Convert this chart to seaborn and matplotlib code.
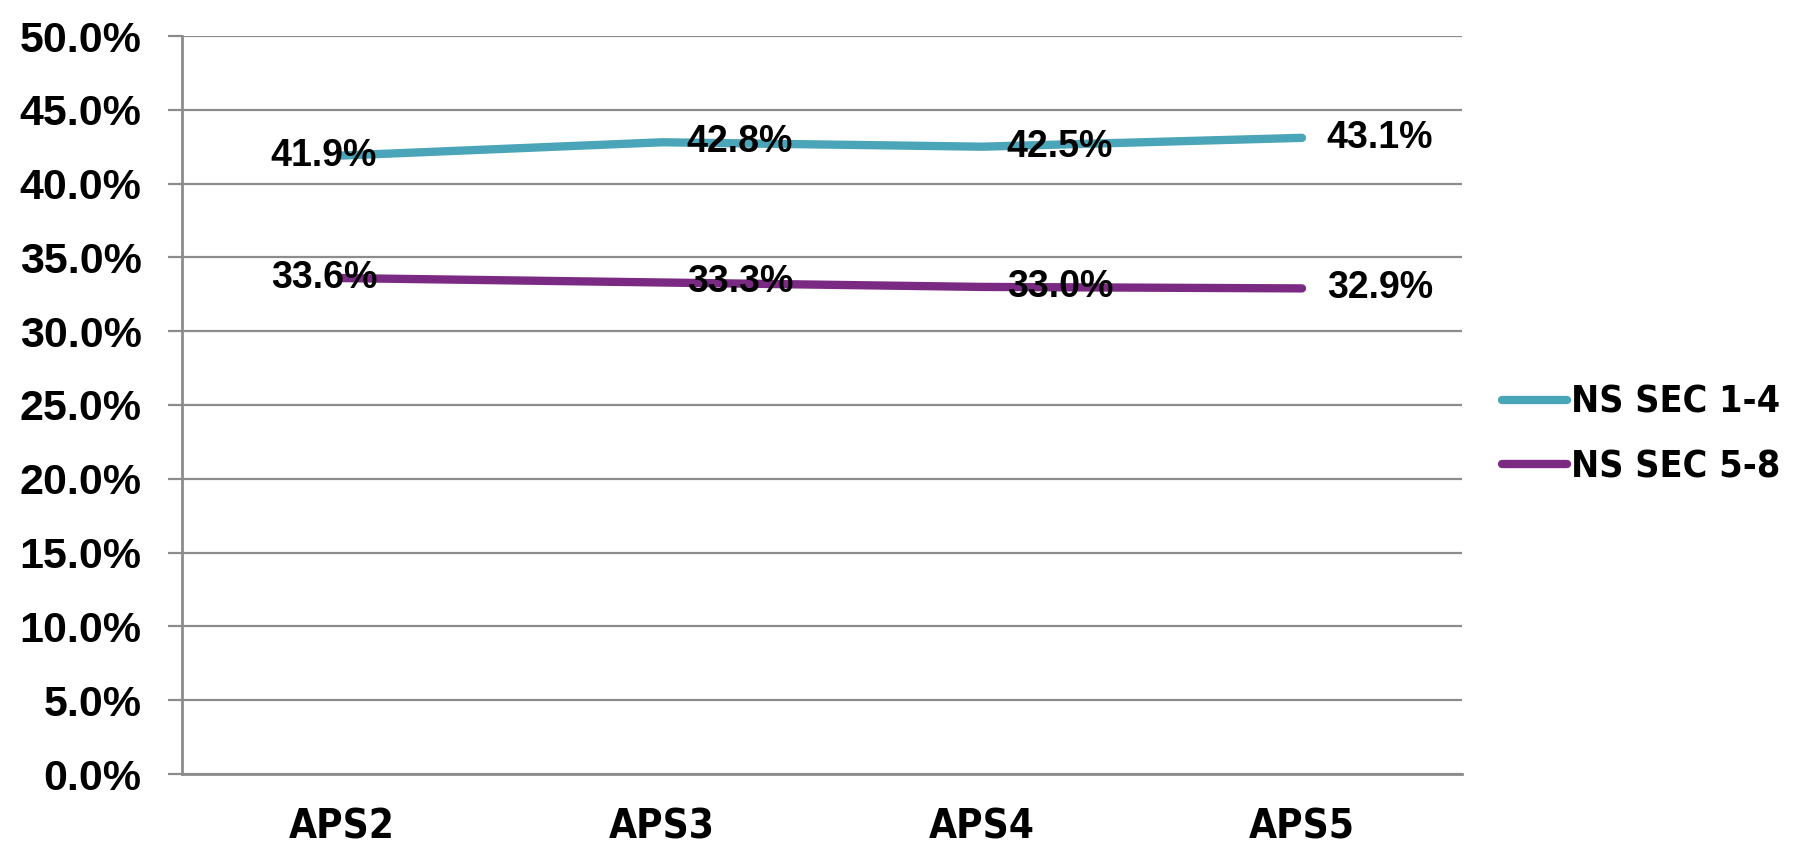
import matplotlib
matplotlib.use("Agg")
import matplotlib.pyplot as plt
import seaborn as sns
import pandas as pd
from matplotlib import font_manager
from matplotlib.font_manager import FontProperties
from matplotlib.lines import Line2D
from matplotlib.ticker import MultipleLocator, FixedLocator, FuncFormatter

# Survey waves and the share in each socio-economic group
waves = ["APS2", "APS3", "APS4", "APS5"]
ns_sec_1_4 = [41.9, 42.8, 42.5, 43.1]
ns_sec_5_8 = [33.6, 33.3, 33.0, 32.9]
series_names = ["NS SEC 1-4", "NS SEC 5-8"]
series_colors = ["#4BA5B8", "#7B2A83"]

df = pd.DataFrame({
    "pos": list(range(len(waves))) * 2,
    "value": ns_sec_1_4 + ns_sec_5_8,
    "group": [series_names[0]] * len(waves) + [series_names[1]] * len(waves),
})

sns.set_theme(style="white")
plt.rcParams["font.family"] = ["Liberation Sans", "DejaVu Sans"]

# Pick a condensed bold face for category and legend text if one is installed
fonts = font_manager.fontManager.ttflist
narrow = None
for f in fonts:
    if f.name == "Liberation Sans Narrow" and f.weight in (700, "bold"):
        narrow = {"family": "Liberation Sans Narrow", "stretch": "normal"}
        break
if narrow is None:
    for f in fonts:
        if f.name == "DejaVu Sans" and "Condensed" in f.fname and "Bold" in f.fname:
            narrow = {"family": "DejaVu Sans", "stretch": "condensed"}
            break
if narrow is None:
    narrow = {"family": "Liberation Sans", "stretch": "normal"}

fig = plt.figure(figsize=(17.98, 8.48), dpi=100)
ax = fig.add_axes([182 / 1798, 1 - 774 / 848, 1280 / 1798, 738 / 848])

sns.lineplot(data=df, x="pos", y="value", hue="group", palette=series_colors,
             linewidth=6, ax=ax, solid_capstyle="round", legend=False,
             estimator=None, sort=False)

ax.set_xlim(-0.5, len(waves) - 0.5)
ax.set_ylim(0, 50)

grid_c = "#8C8C8C"
ax.yaxis.set_major_locator(MultipleLocator(5))
ax.yaxis.set_major_formatter(FuncFormatter(lambda v, _: f"{v:.1f}%"))
ax.grid(axis="y", color=grid_c, linewidth=1.6)
ax.set_axisbelow(True)

cat_font = FontProperties(family=narrow["family"], stretch=narrow["stretch"],
                          weight="bold", size=29)
ax.set_xticks(range(len(waves)))
ax.set_xticklabels(waves, fontproperties=cat_font, color="black")
ax.xaxis.set_minor_locator(FixedLocator([i - 0.5 for i in range(len(waves) + 1)]))
ax.tick_params(axis="x", which="major", length=0, pad=24)
ax.tick_params(axis="x", which="minor", length=13, width=1.6, color=grid_c,
               direction="out")
ax.tick_params(axis="y", length=10, width=1.6, color=grid_c, direction="out",
               pad=19, left=True)

for lab in ax.get_yticklabels():
    lab.set_fontsize(31)
    lab.set_fontweight("bold")
    lab.set_color("black")

for side in ["top", "right"]:
    ax.spines[side].set_visible(False)
for side in ["left", "bottom"]:
    ax.spines[side].set_color(grid_c)
    ax.spines[side].set_linewidth(2)
ax.set_xlabel("")
ax.set_ylabel("")

# Value labels beside each point
offsets = [-18, 78, 78, 78]
for values in (ns_sec_1_4, ns_sec_5_8):
    for i, v in enumerate(values):
        ax.annotate(f"{v:.1f}%", (i, v), xytext=(offsets[i] * 0.72, 0),
                    textcoords="offset points", ha="center", va="center",
                    fontsize=27, fontweight="bold", color="black")

# Legend beside the plot area
handles = [Line2D([0], [0], color=c, linewidth=6, solid_capstyle="round")
           for c in series_colors]
legend_size = 31 if narrow["family"] == "Liberation Sans Narrow" else 27
leg = fig.legend(handles, series_names, loc="center left",
                 bbox_to_anchor=(1468 / 1798, 1 - 435 / 848), frameon=False,
                 handlelength=1.75, handletextpad=0.1, labelspacing=0.75,
                 prop={"family": narrow["family"], "stretch": narrow["stretch"],
                       "weight": "bold", "size": legend_size})
for t in leg.get_texts():
    t.set_color("black")

fig.savefig("out.png", dpi=100)
